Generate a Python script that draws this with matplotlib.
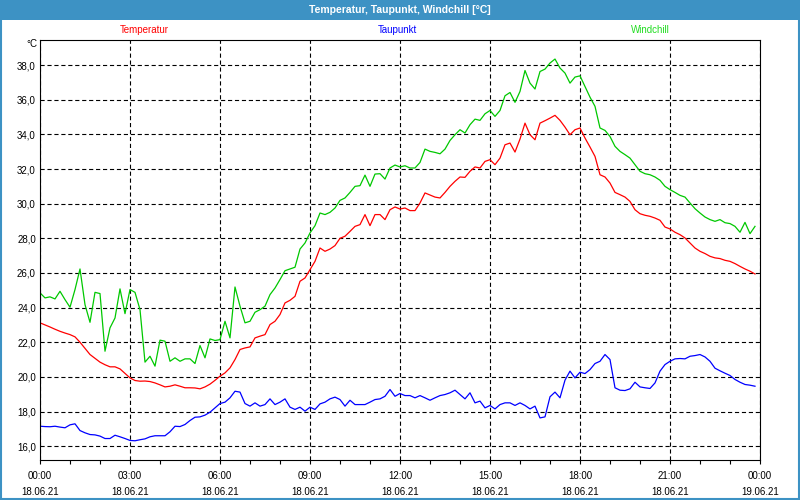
import pandas as pd
import matplotlib
matplotlib.use('Agg')
import matplotlib.pyplot as plt
import matplotlib.dates as mdates
from matplotlib.patches import Rectangle
from matplotlib.ticker import FuncFormatter, MultipleLocator

# 10-minute readings, 18.06.21 00:00 .. 23:50
times = pd.date_range('2021-06-18 00:00', periods=144, freq='10min')

temperatur = [
    23.12, 23.00, 22.88, 22.75, 22.63, 22.53, 22.44, 22.31, 22.00, 21.65, 21.29, 21.07,
    20.85, 20.70, 20.58, 20.58, 20.46, 20.20, 19.94, 19.79, 19.75, 19.76, 19.73, 19.65,
    19.54, 19.42, 19.46, 19.54, 19.46, 19.37, 19.37, 19.36, 19.31, 19.42, 19.58, 19.80,
    20.04, 20.23, 20.52, 21.00, 21.58, 21.67, 21.73, 22.25, 22.35, 22.44, 23.02, 23.21,
    23.60, 24.27, 24.42, 24.65, 25.52, 25.71, 26.19, 26.67, 27.44, 27.25, 27.38, 27.58,
    28.00, 28.12, 28.40, 28.69, 28.79, 29.37, 28.73, 29.37, 29.37, 29.08, 29.65, 29.81,
    29.69, 29.75, 29.60, 29.60, 30.04, 30.62, 30.50, 30.38, 30.33, 30.65, 31.00, 31.29,
    31.54, 31.52, 31.87, 32.12, 32.06, 32.44, 32.54, 32.25, 32.63, 33.40, 33.50, 32.98,
    33.73, 34.65, 33.98, 33.69, 34.65, 34.79, 34.94, 35.10, 34.81, 34.42, 33.98, 34.27,
    34.37, 33.79, 33.27, 32.73, 31.67, 31.54, 31.19, 30.65, 30.52, 30.38, 30.13, 29.65,
    29.42, 29.33, 29.27, 29.17, 29.04, 28.65, 28.54, 28.35, 28.21, 28.02, 27.73, 27.44,
    27.25, 27.12, 26.96, 26.87, 26.83, 26.73, 26.67, 26.54, 26.38, 26.23, 26.10, 25.94,
]

taupunkt = [
    17.15, 17.13, 17.12, 17.15, 17.10, 17.06, 17.23, 17.29, 16.90, 16.77, 16.67, 16.65,
    16.58, 16.44, 16.44, 16.63, 16.54, 16.44, 16.33, 16.31, 16.37, 16.42, 16.54, 16.60,
    16.60, 16.60, 16.83, 17.15, 17.13, 17.25, 17.48, 17.67, 17.69, 17.79, 17.96, 18.21,
    18.46, 18.54, 18.79, 19.17, 19.12, 18.46, 18.31, 18.50, 18.31, 18.40, 18.73, 18.40,
    18.54, 18.73, 18.25, 18.12, 18.25, 18.02, 18.25, 18.12, 18.44, 18.54, 18.73, 18.83,
    18.69, 18.31, 18.65, 18.40, 18.40, 18.40, 18.54, 18.69, 18.73, 18.88, 19.27, 18.88,
    19.04, 18.92, 18.92, 18.79, 18.92, 18.79, 18.65, 18.79, 18.92, 18.98, 19.08, 19.23,
    18.98, 18.73, 19.08, 18.50, 18.60, 18.21, 18.35, 18.15, 18.40, 18.50, 18.50, 18.35,
    18.50, 18.35, 18.15, 18.31, 17.63, 17.69, 18.85, 19.12, 18.79, 19.81, 20.33, 19.94,
    20.27, 20.19, 20.42, 20.77, 20.90, 21.29, 21.00, 19.37, 19.23, 19.21, 19.31, 19.69,
    19.42, 19.37, 19.33, 19.65, 20.33, 20.71, 20.90, 21.04, 21.06, 21.04, 21.19, 21.23,
    21.29, 21.15, 20.90, 20.50, 20.35, 20.21, 20.08, 19.85, 19.69, 19.56, 19.52, 19.46,
]

windchill = [
    24.85, 24.56, 24.62, 24.50, 24.94, 24.46, 24.02, 25.04, 26.23, 24.17, 23.15, 24.88,
    24.81, 21.48, 22.83, 23.40, 25.08, 23.65, 25.04, 24.88, 23.88, 20.85, 21.19, 20.62,
    22.12, 22.06, 20.90, 21.10, 20.90, 21.04, 21.04, 20.77, 21.81, 21.10, 22.19, 22.10,
    22.15, 23.21, 22.25, 25.19, 24.08, 23.12, 23.21, 23.73, 23.88, 24.08, 24.75, 25.13,
    25.62, 26.13, 26.23, 26.33, 27.38, 27.73, 28.31, 28.73, 29.46, 29.37, 29.50, 29.75,
    30.19, 30.33, 30.65, 31.00, 31.04, 31.65, 31.00, 31.71, 31.73, 31.42, 32.06, 32.23,
    32.12, 32.19, 32.06, 32.06, 32.38, 33.15, 33.02, 32.96, 32.88, 33.15, 33.65, 33.98,
    34.27, 34.08, 34.56, 34.88, 34.81, 35.19, 35.38, 35.04, 35.38, 36.23, 36.42, 35.85,
    36.48, 37.69, 36.96, 36.62, 37.63, 37.77, 38.12, 38.35, 37.83, 37.54, 36.96, 37.31,
    37.38, 36.77, 36.15, 35.62, 34.37, 34.23, 33.88, 33.31, 33.02, 32.83, 32.63, 32.25,
    31.87, 31.73, 31.67, 31.54, 31.35, 31.00, 30.81, 30.65, 30.48, 30.38, 30.04, 29.71,
    29.46, 29.23, 29.08, 28.98, 29.08, 28.90, 28.85, 28.69, 28.35, 28.92, 28.27, 28.69,
]

series_names = ['Temperatur', 'Taupunkt', 'Windchill']
line_colors = ['#ff0000', '#0000ff', '#00c800']
label_colors = ['#ff0000', '#0000ff', '#22dd22']

plt.rcParams['font.family'] = ['Liberation Sans', 'DejaVu Sans']
plt.rcParams['lines.scale_dashes'] = False

fig = plt.figure(figsize=(8, 5), dpi=100)
fig.patch.set_facecolor('white')

# title bar and frame
bar_blue = '#3d92c4'
fig.patches.append(Rectangle((0, 0.96), 1, 0.04, transform=fig.transFigure,
                             facecolor=bar_blue, edgecolor='none', zorder=0))
fig.patches.append(Rectangle((0.0008, 0.002), 0.998, 0.996, transform=fig.transFigure,
                             facecolor='none', edgecolor=bar_blue, linewidth=1.5, zorder=0))
fig.text(0.5, 0.98, 'Temperatur, Taupunkt, Windchill [°C]', color='white',
         fontsize=7.5, fontweight='bold', ha='center', va='center',
         family=['Liberation Sans Narrow', 'Liberation Sans', 'DejaVu Sans'])

ax = fig.add_axes([0.05, 0.08, 0.90, 0.84])

for vals, col in zip([temperatur, taupunkt, windchill], line_colors):
    ax.plot(times, vals, color=col, linewidth=0.9)

# coloured series names above the plot
for name, col, xpos in zip(series_names, label_colors, [144, 397, 650]):
    fig.text(xpos / 800, 1 - 30 / 500, name, color=col, fontsize=7,
             ha='center', va='center')

fig.text(37 / 800, 1 - 44 / 500, '°C', fontsize=7, ha='right', va='center')

ax.set_xlim(pd.Timestamp('2021-06-18 00:00'), pd.Timestamp('2021-06-19 00:00'))
ax.set_ylim(15.2, 39.45)

ax.xaxis.set_major_locator(mdates.HourLocator(byhour=range(0, 24, 3)))
ax.xaxis.set_minor_locator(mdates.HourLocator())
ax.xaxis.set_major_formatter(mdates.DateFormatter('%H:%M\n%d.%m.%y'))
ax.yaxis.set_major_locator(MultipleLocator(2))
ax.yaxis.set_major_formatter(FuncFormatter(lambda v, p: f'{v:.1f}'.replace('.', ',')))

ax.tick_params(axis='x', which='both', direction='out', length=3, width=0.8,
               labelsize=7, pad=5)
ax.tick_params(axis='y', length=0, labelsize=7, pad=3)
for lab in ax.get_xticklabels():
    lab.set_linespacing(1.75)

ax.grid(True, which='major', color='black', linestyle=(0, (3, 2)), linewidth=0.8)
for sp in ax.spines.values():
    sp.set_color('black')
    sp.set_linewidth(0.8)

fig.savefig('out.png', dpi=100)
